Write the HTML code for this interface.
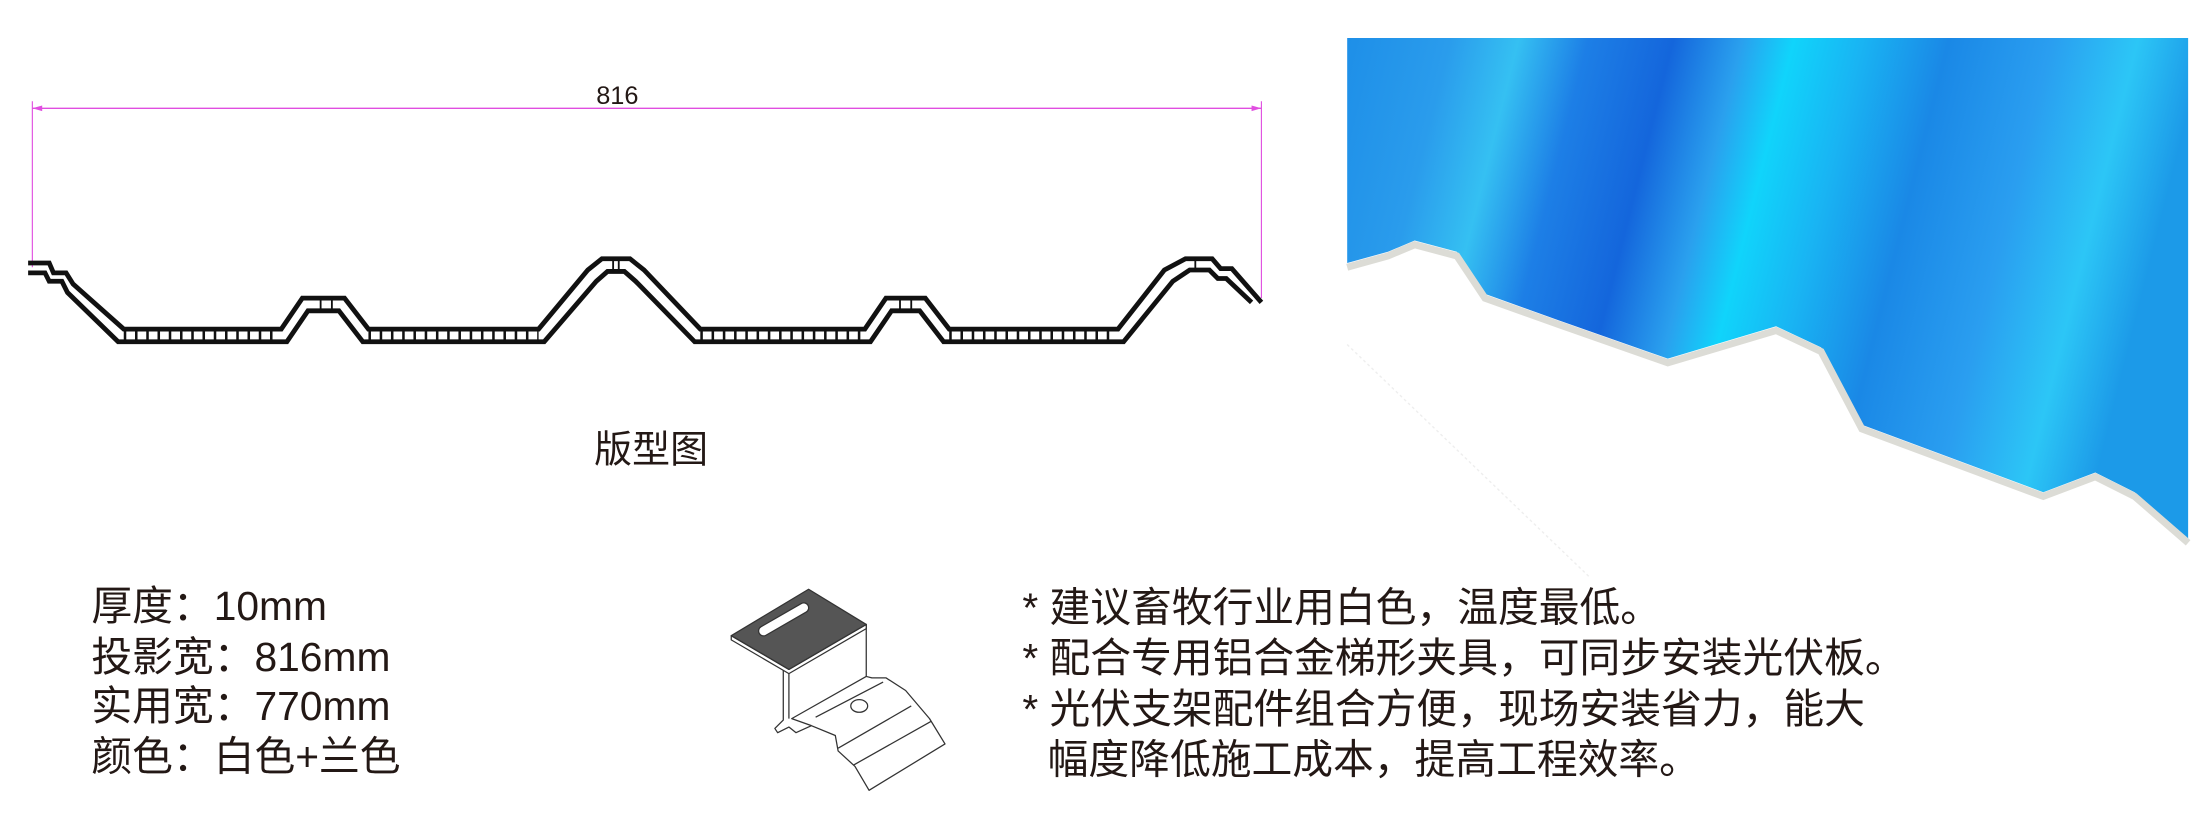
<!DOCTYPE html>
<html><head><meta charset="utf-8"><style>
html,body{margin:0;padding:0;background:#fff;width:2205px;height:840px;overflow:hidden}
svg{display:block}
text{font-family:"Liberation Sans","Noto Sans CJK SC",sans-serif;fill:#231815}
</style></head><body>
<svg width="2205" height="840" viewBox="0 0 1568 597.3" xmlns="http://www.w3.org/2000/svg">
<defs>
<linearGradient id="bl" x1="0" x2="1" y1="0" y2="0.15">
<stop offset="0" stop-color="#1e8fe8"/>
<stop offset="0.12" stop-color="#2a9cec"/>
<stop offset="0.2" stop-color="#35c0f2"/>
<stop offset="0.28" stop-color="#1d7fe6"/>
<stop offset="0.38" stop-color="#1466dc"/>
<stop offset="0.46" stop-color="#2aa0ee"/>
<stop offset="0.52" stop-color="#10d4fb"/>
<stop offset="0.6" stop-color="#19b4f3"/>
<stop offset="0.7" stop-color="#1a88e6"/>
<stop offset="0.82" stop-color="#2a9ef0"/>
<stop offset="0.92" stop-color="#2cc6f6"/>
<stop offset="1" stop-color="#1c9ae8"/>
</linearGradient>
</defs>
<!-- dimension -->
<line x1="23" y1="77" x2="897" y2="77" stroke="#e04ee0" stroke-width="1"/>
<line x1="23" y1="72" x2="23" y2="190" stroke="#e04ee0" stroke-width="0.8"/>
<line x1="897" y1="72" x2="897" y2="212" stroke="#e04ee0" stroke-width="0.8"/>
<polygon points="23,77 30,75 30,79" fill="#e04ee0"/>
<polygon points="897,77 890,75 890,79" fill="#e04ee0"/>
<text x="439" y="74" font-size="18" text-anchor="middle">816</text>
<!-- profile -->
<g fill="none" stroke="#111" stroke-width="3.4" stroke-linejoin="miter">
<polyline points="20,187 35,187 38,194 47,194 52,202 88,234 200,234 215,212 245,212 262,234 383,234 418,192 428,184 448,184 458,192 498,234 615,234 630,212 658,212 675,234 795,234 828,192 843,184 862,184 868,191 876,191 897,215"/>
<polyline points="20,194 32,194 35,200 44,200 48,208 84,243 204,243 219,221 241,221 258,243 387,243 424,200 432,193 444,193 452,200 494,243 619,243 634,221 654,221 671,243 799,243 834,200 846,192 860,192 866,198 872,198 890,215"/>
</g>
<g stroke="#111" stroke-width="1.3">
<line x1="88" y1="238.5" x2="200" y2="238.5" stroke-dasharray="1.8 6.2" stroke-width="9"/>
<line x1="262" y1="238.5" x2="383" y2="238.5" stroke-dasharray="1.8 6.2" stroke-width="9"/>
<line x1="498" y1="238.5" x2="615" y2="238.5" stroke-dasharray="1.8 6.2" stroke-width="9"/>
<line x1="675" y1="238.5" x2="795" y2="238.5" stroke-dasharray="1.8 6.2" stroke-width="9"/>
<line x1="228" y1="212" x2="228" y2="221"/><line x1="236" y1="212" x2="236" y2="221"/>
<line x1="640" y1="212" x2="640" y2="221"/><line x1="648" y1="212" x2="648" y2="221"/>
<line x1="436" y1="184" x2="436" y2="193"/><line x1="440" y1="184" x2="440" y2="193"/>
<line x1="850" y1="184" x2="850" y2="192"/>
</g>
<text x="463" y="329" font-size="27" text-anchor="middle">版型图</text>
<!-- photo -->
<polygon points="958,27 1556,27 1556,383 1518,350 1490,336 1453,350 1324,302 1295,247 1263,232 1186,255 1109,228 1056,209 1036,179 1006,171 987,179 958,187" fill="url(#bl)"/>
<polyline points="958,190 987,182 1006,174 1036,182 1056,212 1109,231 1186,258 1263,235 1295,250 1324,305 1453,353 1490,339 1518,353 1556,386" fill="none" stroke="#dcdcd6" stroke-width="5"/>
<line x1="958" y1="245" x2="1130" y2="410" stroke="#eee" stroke-width="1" stroke-dasharray="2 2"/>
<!-- left spec text -->
<g font-size="29">
<text x="65" y="441">厚度：10mm</text>
<text x="65" y="477">投影宽：816mm</text>
<text x="65" y="512">实用宽：770mm</text>
<text x="65" y="548">颜色：白色+兰色</text>
</g>
<!-- clip -->
<g stroke="#333" stroke-width="0.9" fill="#fff" stroke-linejoin="round">
<polygon points="620,482 630,482 644,491 661,511 672,529 618,562 608,545 596,534 594,523 577,516 563,511 616,481"/>
<line x1="580" y1="510" x2="628" y2="485"/>
<line x1="596" y1="532" x2="648" y2="502"/>
<line x1="607" y1="544" x2="662" y2="513"/>
<ellipse cx="611" cy="502" rx="6" ry="4.5"/>
<polyline points="557,475 557,512 551,518 553,521 561,517 566,521 577,516" fill="none"/>
<polyline points="561,478 561,511" fill="none"/>
<polyline points="616,444 616,481" fill="none"/>
<polygon points="520,452 520,455 561,479 616,447 616,444 561,476"/>
<polygon points="520,452 575,419 616,444 561,476" fill="#555"/>
<rect x="537" y="437" width="40" height="7" rx="3.5" transform="rotate(-30 557 440)" fill="#fff"/>
</g>
<!-- right text -->
<g font-size="29">
<text x="727" y="442">* 建议畜牧行业用白色，温度最低。</text>
<text x="727" y="478">* 配合专用铝合金梯形夹具，可同步安装光伏板。</text>
<text x="727" y="514">* 光伏支架配件组合方便，现场安装省力，能大</text>
<text x="745" y="550">幅度降低施工成本，提高工程效率。</text>
</g>
</svg>
</body></html>
